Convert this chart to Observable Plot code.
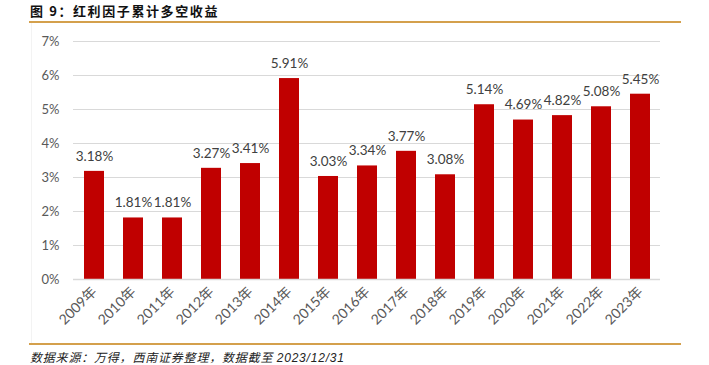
<!DOCTYPE html>
<html><head><meta charset="utf-8">
<script src="https://cdn.jsdelivr.net/npm/d3@7"></script>
<script src="https://cdn.jsdelivr.net/npm/@observablehq/plot@0.6"></script>
<style>
body{margin:0;background:#fff;width:709px;height:365px;overflow:hidden;font-family:Lato,"Noto Sans CJK SC",sans-serif;}
#title{position:absolute;left:30px;top:1px;font:bold 13px "Noto Sans CJK SC",sans-serif;letter-spacing:1.6px;color:#111;}
#topline{position:absolute;left:29px;top:21px;width:652px;height:2px;background:#d4a04c;}
#chart{position:absolute;left:0;top:23px;}
#botline{position:absolute;left:29px;top:343px;width:652px;height:2px;background:#d4a04c;}
#source{position:absolute;left:30px;top:348px;font:italic 12px "Noto Sans CJK SC",sans-serif;color:#222;letter-spacing:0.8px;}
#vline{position:absolute;left:31px;top:23px;width:1px;height:320px;background:#f3f3f3;}
</style></head>
<body>
<div id="title">图 9：红利因子累计多空收益</div>
<div id="topline"></div>
<div id="vline"></div>
<div id="chart"></div>
<div id="botline"></div>
<div id="source">数据来源：万得，西南证券整理，数据截至 <span style="font-family:'Liberation Sans';">2023/12/31</span></div>
<script>
const years = ["2009年","2010年","2011年","2012年","2013年","2014年","2015年","2016年","2017年","2018年","2019年","2020年","2021年","2022年","2023年"];
const values = [3.18,1.81,1.81,3.27,3.41,5.91,3.03,3.34,3.77,3.08,5.14,4.69,4.82,5.08,5.45];
const yTicks = [0,1,2,3,4,5,6,7];
const data = years.map((y,i)=>({year:y,value:values[i]}));
const chart = Plot.plot({
  width:709, height:320,
  marginTop:18, marginBottom:64, marginLeft:73, marginRight:49,
  style:{fontFamily:"Lato, 'Noto Sans CJK SC', sans-serif", background:"transparent"},
  x:{domain:years, paddingInner:0.49, paddingOuter:0.245, label:null},
  y:{domain:[0,7], label:null},
  marks:[
    Plot.gridY(yTicks,{stroke:"#d9d9d9", strokeOpacity:1}),
    Plot.barY(data,{x:"year", y:"value", fill:"#c00000"}),
    Plot.ruleY([0],{stroke:"#d9d9d9", strokeWidth:1.5}),
    Plot.text(data,{x:"year", y:"value", text:d=>d.value.toFixed(2)+"%", dy:-15, fontSize:13.5, fill:"#404040"}),
    Plot.axisY(yTicks,{tickSize:0, tickPadding:14, tickFormat:d=>d+"%", fontSize:13, color:"#595959", label:null}),
    Plot.axisX({tickSize:0, tickRotate:-45, tickPadding:10, fontSize:14, color:"#595959", label:null})
  ]
});
document.getElementById("chart").appendChild(chart);
</script>
</body></html>
